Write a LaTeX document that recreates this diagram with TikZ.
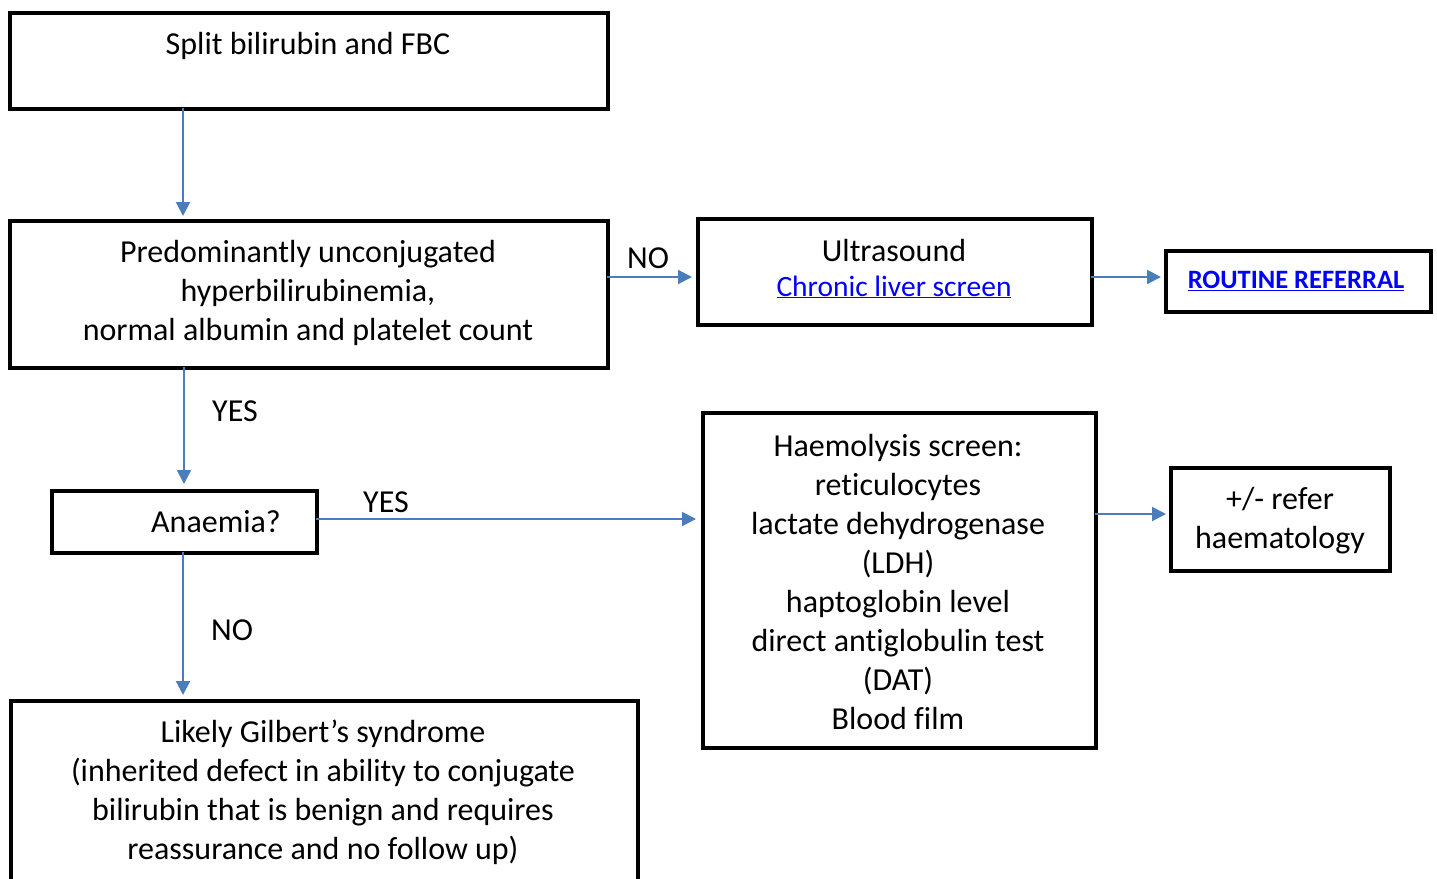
\documentclass[tikz,border=0pt]{standalone}
\usepackage{fontspec}
\setmainfont{Carlito}[Ligatures={NoCommon}]
\usetikzlibrary{arrows.meta}
\definecolor{arrowblue}{HTML}{4A7EBB}
\definecolor{linkblue}{HTML}{0000FF}
\tikzset{
  box/.style={draw=black, line width=3.5pt, rectangle, anchor=north west, inner sep=0pt, fill=white},
  txt/.style={align=center, inner sep=0pt, font=\fontsize{32}{39}\selectfont},
  conn/.style={draw=arrowblue, line width=2pt, -{Triangle[length=14pt,width=14pt]}},
  lab/.style={inner sep=0pt, font=\fontsize{32}{39}\selectfont}
}
\newcommand{\linkul}[1]{\underline{#1}}
\begin{document}
\begin{tikzpicture}[x=1pt,y=-1pt]
\useasboundingbox (0,0) rectangle (1437,878);
% boxes
\node[box, minimum width=598, minimum height=96] (b1) at (8,11) {};
\node[txt] (t1) at (308,46) {Split bilirubin and FBC};
\node[box, minimum width=598, minimum height=147] (b2) at (8,219) {};
\node[txt] (t2) at (308,293) {Predominantly unconjugated\\hyperbilirubinemia,\\normal albumin and platelet count};
\node[box, minimum width=394, minimum height=106] (b3) at (696,217) {};
\node[txt, anchor=base] (t3) at (894,261) {Ultrasound};
\node[txt, anchor=base, font=\fontsize{29.5}{36}\selectfont] (t3b) at (894,296) {\textcolor{linkblue}{\linkul{Chronic liver screen}}};
\node[box, minimum width=265, minimum height=61] (b4) at (1164,249) {};
\node[txt, font=\fontsize{26.5}{30}\selectfont\bfseries] (t4) at (1296,281) {\textcolor{linkblue}{\linkul{ROUTINE REFERRAL}}};
\node[box, minimum width=265, minimum height=62] (b5) at (50,489) {};
\node[txt] (t5) at (216,522) {Anaemia?};
\node[box, minimum width=393, minimum height=335] (b6) at (701,411) {};
\node[txt] (t6) at (898,582) {Haemolysis screen:\\reticulocytes\\lactate dehydrogenase\\(LDH)\\haptoglobin level\\direct antiglobulin test\\(DAT)\\Blood film};
\node[box, minimum width=219, minimum height=103] (b7) at (1169,466) {};
\node[txt] (t7) at (1280,521) {+/- refer\\haematology};
\node[box, minimum width=627, minimum height=190] (b8) at (9,699) {};
\node[txt] (t8) at (323,792) {Likely Gilbert’s syndrome\\(inherited defect in ability to conjugate\\bilirubin that is benign and requires\\reassurance and no follow up)};
% connectors
\coordinate (a1s) at (183,108);
\coordinate (a1e) at (183,216);
\draw[conn] (a1s) -- (a1e);
\coordinate (a2s) at (607,277);
\coordinate (a2e) at (692,277);
\draw[conn] (a2s) -- (a2e);
\node[lab] (l1) at (648,258) {NO};
\coordinate (a3s) at (1091,277);
\coordinate (a3e) at (1161,277);
\draw[conn] (a3s) -- (a3e);
\coordinate (a4s) at (184,367);
\coordinate (a4e) at (184,484);
\draw[conn] (a4s) -- (a4e);
\node[lab] (l2) at (235,411) {YES};
\coordinate (a5s) at (316,519);
\coordinate (a5e) at (696,519);
\draw[conn] (a5s) -- (a5e);
\node[lab] (l3) at (386,502) {YES};
\coordinate (a6s) at (183,552);
\coordinate (a6e) at (183,695);
\draw[conn] (a6s) -- (a6e);
\node[lab] (l4) at (232,630) {NO};
\coordinate (a7s) at (1095,514);
\coordinate (a7e) at (1166,514);
\draw[conn] (a7s) -- (a7e);
\end{tikzpicture}
\end{document}
